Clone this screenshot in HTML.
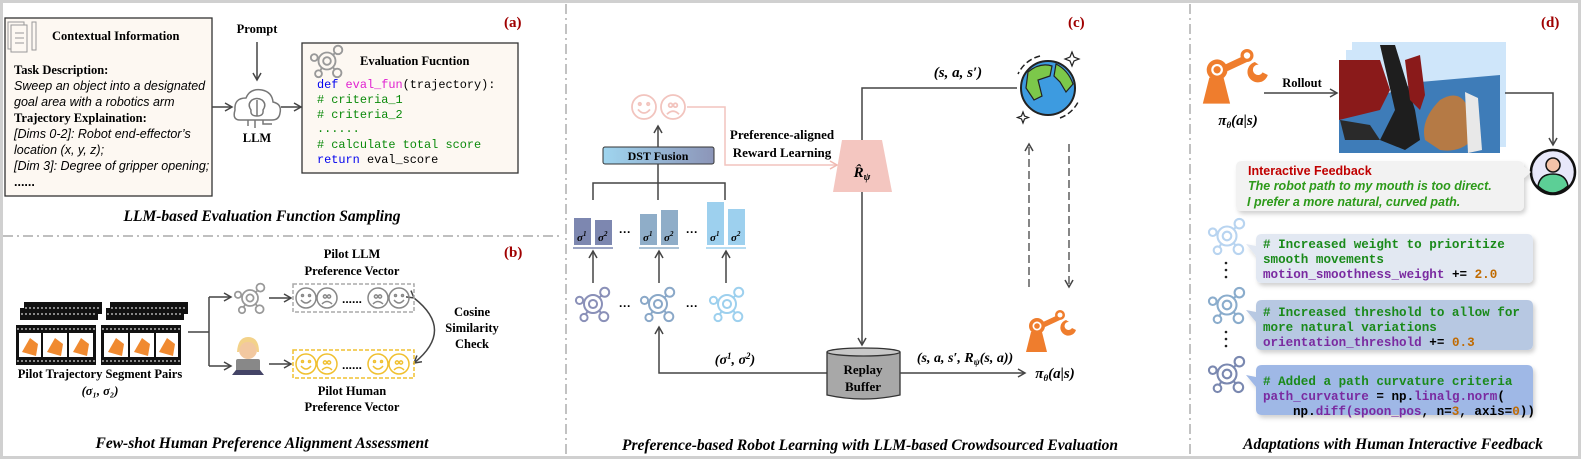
<!DOCTYPE html>
<html><head><meta charset="utf-8">
<style>
html,body{margin:0;padding:0;background:#fff}
svg{display:block}
.ser{font-family:"Liberation Serif",serif}
.sans{font-family:"Liberation Sans",sans-serif}
.mono{font-family:"Liberation Mono",monospace}
</style></head><body>
<svg width="1583" height="461" viewBox="0 0 1583 461" xmlns="http://www.w3.org/2000/svg">
<defs>
<marker id="ar" markerWidth="10" markerHeight="10" refX="8" refY="5" orient="auto" markerUnits="userSpaceOnUse"><path d="M1,1 L8,5 L1,9" fill="none" stroke="#444" stroke-width="1.5"/></marker>
<marker id="arp" markerWidth="10" markerHeight="10" refX="8" refY="5" orient="auto" markerUnits="userSpaceOnUse"><path d="M1,1 L8,5 L1,9" fill="none" stroke="#f0b8b0" stroke-width="1.5"/></marker>
<g id="tool" fill="none" stroke-width="2.2">
<circle cx="0" cy="0" r="10"/><circle cx="0" cy="0" r="4.5"/>
<circle cx="13" cy="-13" r="5"/><circle cx="-15" cy="-4" r="4"/><circle cx="-10" cy="15" r="4"/><circle cx="12" cy="14" r="5"/>
<line x1="7" y1="-7" x2="9.5" y2="-9.5"/><line x1="-10" y1="-2.5" x2="-11" y2="-3"/><line x1="-6" y1="8" x2="-8" y2="11.5"/><line x1="7" y1="7" x2="9" y2="10.5"/>
</g>
<g id="smile" fill="none" stroke-width="1.5"><circle r="10"/><circle cx="-3.5" cy="-2.5" r="1" /><circle cx="3.5" cy="-2.5" r="1"/><path d="M-5,2 Q0,8 5,2"/></g>
<g id="frown" fill="none" stroke-width="1.5"><circle r="10"/><circle cx="-2" cy="-1.5" r="1.6"/><circle cx="2" cy="-1.5" r="1.6"/><path d="M-5,6 Q0,1 5,6"/></g>
<g id="arm">
<path d="M-14,22 L-9,2 L2,2 L7,22Z" fill="#ef7d2d"/>
<circle cx="-3" cy="-4" r="8" fill="#ef7d2d"/><circle cx="-3" cy="-4" r="4.5" fill="#fff"/><circle cx="-3" cy="-4" r="2.8" fill="#ef7d2d"/>
<path d="M3,-8 L18,-15 L20,-10 L5,-3Z" fill="#ef7d2d"/>
<circle cx="20" cy="-15" r="5" fill="#ef7d2d"/><circle cx="20" cy="-15" r="2.5" fill="#fff"/>
<path d="M26,-10 A8,8 0 1 0 36,0 L32,-2 A4,4 0 1 1 29,-8Z" fill="#ef7d2d"/>
</g>
<linearGradient id="dst" x1="0" x2="1"><stop offset="0" stop-color="#9fd5ef"/><stop offset="1" stop-color="#8c95b8"/></linearGradient>
<filter id="sh" x="-5%" y="-10%" width="112%" height="130%"><feDropShadow dx="2" dy="3" stdDeviation="2" flood-color="#000" flood-opacity="0.18"/></filter>
</defs>

<rect x="1.5" y="1.5" width="1578" height="456" fill="#fff" stroke="#d0d0d0" stroke-width="3"/>

<line x1="3" y1="236" x2="560" y2="236" stroke="#999" stroke-width="1.2" stroke-dasharray="10,4,2,4"/>
<line x1="566" y1="4" x2="566" y2="456" stroke="#999" stroke-width="1.2" stroke-dasharray="10,4,2,4"/>
<line x1="1190" y1="4" x2="1190" y2="456" stroke="#999" stroke-width="1.2" stroke-dasharray="10,4,2,4"/>

<!-- (a) -->
<text x="504" y="27" class="ser" font-size="15" font-weight="bold" fill="#a00000">(a)</text>
<rect x="5" y="18" width="207" height="178" fill="#fdf8f2" stroke="#333" stroke-width="1.3"/>
<g stroke="#999" fill="none" stroke-width="1"><rect x="8" y="22" width="16" height="27"/><rect x="11" y="25" width="16" height="27" fill="#fdf8f2"/><line x1="15" y1="33" x2="24" y2="33"/><line x1="15" y1="38" x2="24" y2="38"/><line x1="15" y1="43" x2="24" y2="43"/><rect x="32" y="22" width="4" height="28"/></g>
<text x="52" y="40" class="ser" font-size="12.5" font-weight="bold">Contextual Information</text>
<text x="14" y="74" class="ser" font-size="12.5" font-weight="bold">Task Description:</text>
<text x="14" y="90" class="sans" font-size="12.5" font-style="italic">Sweep an object into a designated</text>
<text x="14" y="106" class="sans" font-size="12.5" font-style="italic">goal area with a robotics arm</text>
<text x="14" y="122" class="ser" font-size="12.5" font-weight="bold">Trajectory Explaination:</text>
<text x="14" y="138" class="sans" font-size="12.5" font-style="italic">[Dims 0-2]: Robot end-effector’s</text>
<text x="14" y="154" class="sans" font-size="12.5" font-style="italic">location (x, y, z);</text>
<text x="14" y="170" class="sans" font-size="12.5" font-style="italic">[Dim 3]: Degree of gripper opening;</text>
<text x="14" y="186" class="sans" font-size="12.5" font-weight="bold">......</text>

<text x="257" y="33" class="ser" font-size="12.5" font-weight="bold" text-anchor="middle">Prompt</text>
<line x1="257" y1="42" x2="257" y2="80" stroke="#444" stroke-width="1.5" marker-end="url(#ar)"/>
<g fill="none" stroke="#777" stroke-width="1.5">
<path d="M240,120 Q232,120 235,110 Q234,98 246,98 Q250,88 262,90 Q272,92 273,102 Q282,104 280,113 Q279,120 272,120Z"/>
<path d="M252,100 Q247,104 251,110 Q250,116 257,116 Q264,116 263,110 Q267,104 262,100 Q257,97 252,100Z"/>
<line x1="257" y1="100" x2="257" y2="116"/>
<line x1="248" y1="120" x2="248" y2="126"/><line x1="255" y1="120" x2="255" y2="128"/><path d="M263,120 L263,124 L272,124"/>
</g>
<text x="257" y="142" class="ser" font-size="12.5" font-weight="bold" text-anchor="middle">LLM</text>
<line x1="212" y1="107" x2="232" y2="107" stroke="#444" stroke-width="1.5" marker-end="url(#ar)"/>
<line x1="281" y1="107" x2="301" y2="107" stroke="#444" stroke-width="1.5" marker-end="url(#ar)"/>

<rect x="302" y="43" width="216" height="130" fill="#fdf8f2" stroke="#333" stroke-width="1.3"/>
<use href="#tool" stroke="#999" transform="translate(327,61) scale(0.85)"/>
<text x="360" y="65" class="ser" font-size="12.5" font-weight="bold">Evaluation Fucntion</text>
<g class="mono" font-size="11.9">
<text x="317" y="88"><tspan fill="#0000ee">def </tspan><tspan fill="#e020d0">eval_fun</tspan><tspan fill="#000">(trajectory):</tspan></text>
<text x="317" y="103" fill="#0a8a0a"># criteria_1</text>
<text x="317" y="118" fill="#0a8a0a"># criteria_2</text>
<text x="317" y="132" fill="#0a8a0a">......</text>
<text x="317" y="148" fill="#0a8a0a"># calculate total score</text>
<text x="317" y="163"><tspan fill="#0000ee">return </tspan><tspan fill="#000">eval_score</tspan></text>
</g>
<text x="262" y="221" class="ser" font-size="15.5" font-weight="bold" font-style="italic" text-anchor="middle">LLM-based Evaluation Function Sampling</text>

<!-- (b) -->
<text x="504" y="257" class="ser" font-size="15" font-weight="bold" fill="#a00000">(b)</text>
<text x="352" y="258" class="ser" font-size="12.5" font-weight="bold" text-anchor="middle">Pilot LLM</text>
<text x="352" y="275" class="ser" font-size="12.5" font-weight="bold" text-anchor="middle">Preference Vector</text>
<g>
<rect x="24" y="302" width="78" height="12" fill="#111"/><rect x="110" y="302" width="78" height="12" fill="#111"/>
<rect x="20" y="308" width="78" height="12" fill="#111"/><rect x="106" y="308" width="78" height="12" fill="#111"/>
<rect x="16" y="325" width="80" height="40" fill="#111"/><rect x="101" y="325" width="80" height="40" fill="#111"/>
<g fill="#fff"><rect x="19" y="333" width="22" height="24"/><rect x="43" y="333" width="24" height="24"/><rect x="69" y="333" width="24" height="24"/>
<rect x="104" y="333" width="24" height="24"/><rect x="130" y="333" width="24" height="24"/><rect x="156" y="333" width="22" height="24"/></g>
<g fill="#f08a30"><path d="M22,352 L30,338 L38,344 L36,356Z"/><path d="M47,352 L55,338 L63,344 L61,356Z"/><path d="M73,352 L81,338 L89,344 L87,356Z"/><path d="M108,352 L116,338 L124,344 L122,356Z"/><path d="M134,352 L142,338 L150,344 L148,356Z"/><path d="M159,352 L167,338 L175,344 L173,356Z"/></g>
<g stroke="#fff" stroke-width="1" stroke-dasharray="2,2"><line x1="17" y1="329" x2="96" y2="329"/><line x1="17" y1="361" x2="96" y2="361"/><line x1="102" y1="329" x2="181" y2="329"/><line x1="102" y1="361" x2="181" y2="361"/>
<line x1="25" y1="308" x2="101" y2="308"/><line x1="111" y1="308" x2="187" y2="308"/><line x1="21" y1="314" x2="97" y2="314"/><line x1="107" y1="314" x2="183" y2="314"/></g>
</g>
<text x="100" y="378" class="ser" font-size="12.5" font-weight="bold" text-anchor="middle">Pilot Trajectory Segment Pairs</text>
<text x="100" y="395" class="ser" font-size="12.5" font-weight="bold" font-style="italic" text-anchor="middle">(σ₁, σ₂)</text>
<g stroke="#444" stroke-width="1.5" fill="none">
<polyline points="188,332 209,332"/>
<polyline points="209,297 209,366"/>
<line x1="209" y1="297" x2="231" y2="297" marker-end="url(#ar)"/>
<line x1="209" y1="366" x2="231" y2="366" marker-end="url(#ar)"/>
<line x1="269" y1="298" x2="291" y2="298" marker-end="url(#ar)"/>
<line x1="269" y1="364" x2="291" y2="364" marker-end="url(#ar)"/>
<path d="M414,298 Q455,330 414,363" marker-end="url(#ar)" marker-start="url(#ar)"/>
</g>
<use href="#tool" stroke="#999" transform="translate(250,298) scale(0.8)"/>
<circle cx="248" cy="350" r="9" fill="#f2c8a0"/><path d="M237,352 Q238,337 248,337 Q259,337 259,352 L257,352 Q256,342 248,342 Q240,342 239,352Z" fill="#f3d28a"/>
<rect x="236" y="359" width="24" height="13" rx="2" fill="#888"/><path d="M232,375 L264,375 L260,370 L236,370Z" fill="#446"/>
<rect x="293" y="284" width="121" height="28" fill="none" stroke="#aaa" stroke-width="1.5" stroke-dasharray="4,2"/>
<g stroke="#888"><use href="#smile" transform="translate(306,298)"/><use href="#frown" transform="translate(327,298)"/><use href="#frown" transform="translate(378,298)"/><use href="#smile" transform="translate(399,298)"/></g>
<text x="352" y="303" class="sans" font-size="12" font-weight="bold" text-anchor="middle">......</text>
<rect x="293" y="350" width="121" height="28" fill="none" stroke="#f0c030" stroke-width="1.5" stroke-dasharray="4,2"/>
<g stroke="#f0c030"><use href="#smile" transform="translate(306,364)"/><use href="#frown" transform="translate(327,364)"/><use href="#smile" transform="translate(378,364)"/><use href="#frown" transform="translate(399,364)"/></g>
<text x="352" y="369" class="sans" font-size="12" font-weight="bold" text-anchor="middle">......</text>
<text x="472" y="316" class="ser" font-size="12.5" font-weight="bold" text-anchor="middle">Cosine</text>
<text x="472" y="332" class="ser" font-size="12.5" font-weight="bold" text-anchor="middle">Similarity</text>
<text x="472" y="348" class="ser" font-size="12.5" font-weight="bold" text-anchor="middle">Check</text>
<text x="352" y="395" class="ser" font-size="12.5" font-weight="bold" text-anchor="middle">Pilot Human</text>
<text x="352" y="411" class="ser" font-size="12.5" font-weight="bold" text-anchor="middle">Preference Vector</text>
<text x="262" y="448" class="ser" font-size="15.5" font-weight="bold" font-style="italic" text-anchor="middle">Few-shot Human Preference Alignment Assessment</text>

<!-- (c) -->
<text x="1068" y="27" class="ser" font-size="15" font-weight="bold" fill="#a00000">(c)</text>
<circle cx="1048" cy="88" r="27" fill="#3d9be0" stroke="#222" stroke-width="2"/>
<path d="M1028,72 Q1040,62 1052,66 L1050,76 L1038,80 L1042,96 L1034,100 L1026,88Z" fill="#7cc84a" stroke="#222" stroke-width="1.2"/>
<path d="M1056,64 Q1068,70 1073,84 L1066,92 L1060,82 L1054,76Z" fill="#7cc84a" stroke="#222" stroke-width="1.2"/>
<path d="M1040,56 A33,33 0 0 0 1018,74" fill="none" stroke="#222" stroke-width="1.5" stroke-dasharray="6,3"/>
<path d="M1060,118 A33,33 0 0 0 1079,100" fill="none" stroke="#222" stroke-width="1.5" stroke-dasharray="6,3"/>
<path d="M1072,52 l2,5 5,2 -5,2 -2,5 -2,-5 -5,-2 5,-2Z" fill="none" stroke="#222" stroke-width="1.2"/>
<path d="M1023,112 l1.5,4 4,1.5 -4,1.5 -1.5,4 -1.5,-4 -4,-1.5 4,-1.5Z" fill="none" stroke="#222" stroke-width="1.2"/>
<text x="958" y="77" class="ser" font-size="15" font-weight="bold" font-style="italic" text-anchor="middle">(s, a, s′)</text>
<polyline points="1017,88 862,88 862,140" fill="none" stroke="#444" stroke-width="1.5"/>
<path d="M842,140 L882,140 L892,192 L833,192Z" fill="#f4c6c0"/>
<text x="862" y="177" class="ser" font-size="15" font-weight="bold" font-style="italic" text-anchor="middle">R̂<tspan font-size="10" dy="3">ψ</tspan></text>
<line x1="862" y1="192" x2="862" y2="345" stroke="#444" stroke-width="1.5" marker-end="url(#ar)"/>
<g stroke="#f2c4be" stroke-width="1.5"><use href="#smile" transform="translate(644,107) scale(1.2)"/><use href="#frown" transform="translate(673,107) scale(1.2)"/></g>
<polyline points="687,107 725,107 725,165 837,165" fill="none" stroke="#f2c4be" stroke-width="1.5" marker-end="url(#arp)"/>
<text x="782" y="139" class="ser" font-size="13" font-weight="bold" text-anchor="middle">Preference-aligned</text>
<text x="782" y="157" class="ser" font-size="13" font-weight="bold" text-anchor="middle">Reward Learning</text>
<rect x="603" y="147" width="111" height="17" rx="2" fill="url(#dst)" stroke="#333" stroke-width="1"/>
<text x="658" y="160" class="ser" font-size="12" font-weight="bold" text-anchor="middle">DST Fusion</text>
<line x1="658" y1="147" x2="658" y2="126" stroke="#444" stroke-width="1.5" marker-end="url(#ar)"/>
<polyline points="658,164 658,200" fill="none" stroke="#444" stroke-width="1.5"/>
<polyline points="593,200 593,183 725,183 725,200" fill="none" stroke="#444" stroke-width="1.5"/>
<rect x="574" y="218" width="17" height="27" fill="#7d87b0"/><rect x="595" y="220" width="17" height="25" fill="#7d87b0"/>
<line x1="573" y1="248" x2="613" y2="248" stroke="#7d87b0" stroke-width="1.5"/>
<rect x="640" y="214" width="17" height="31" fill="#8fadc8"/><rect x="661" y="210" width="17" height="35" fill="#8fadc8"/>
<line x1="639" y1="248" x2="679" y2="248" stroke="#8fadc8" stroke-width="1.5"/>
<rect x="707" y="202" width="17" height="43" fill="#9dd0ee"/><rect x="728" y="209" width="17" height="36" fill="#9dd0ee"/>
<line x1="706" y1="248" x2="746" y2="248" stroke="#9dd0ee" stroke-width="1.5"/>
<g class="ser" font-size="11" font-weight="bold" font-style="italic">
<text x="577" y="241">σ<tspan font-size="7" dy="-5">1</tspan></text><text x="598" y="241">σ<tspan font-size="7" dy="-5">2</tspan></text>
<text x="643" y="241">σ<tspan font-size="7" dy="-5">1</tspan></text><text x="664" y="241">σ<tspan font-size="7" dy="-5">2</tspan></text>
<text x="710" y="241">σ<tspan font-size="7" dy="-5">1</tspan></text><text x="731" y="241">σ<tspan font-size="7" dy="-5">2</tspan></text>
</g>
<g class="sans" font-size="12" font-weight="bold" text-anchor="middle"><text x="625" y="236">···</text><text x="692" y="236">···</text><text x="625" y="310">···</text><text x="692" y="310">···</text></g>
<g stroke="#444" stroke-width="1.5"><line x1="593" y1="283" x2="593" y2="251" marker-end="url(#ar)"/><line x1="659" y1="283" x2="659" y2="251" marker-end="url(#ar)"/><line x1="726" y1="283" x2="726" y2="251" marker-end="url(#ar)"/></g>
<use href="#tool" stroke="#8a90b8" transform="translate(593,304) scale(0.9)"/>
<use href="#tool" stroke="#8aa8c8" transform="translate(658,304) scale(0.9)"/>
<use href="#tool" stroke="#9dd0ee" transform="translate(727,304) scale(0.9)"/>
<polyline points="827,373 659,373 659,327" fill="none" stroke="#444" stroke-width="1.5" marker-end="url(#ar)"/>
<text x="735" y="364" class="ser" font-size="14" font-weight="bold" font-style="italic" text-anchor="middle">(σ<tspan font-size="9" dy="-5">1</tspan><tspan dy="5">, σ</tspan><tspan font-size="9" dy="-5">2</tspan><tspan dy="5">)</tspan></text>
<path d="M827,352 L827,395 Q863,403 900,395 L900,352" fill="#a8a8a8" stroke="#333" stroke-width="1.3"/>
<ellipse cx="863.5" cy="352" rx="36.5" ry="4" fill="#c8c8c8" stroke="#333" stroke-width="1.3"/>
<text x="863" y="374" class="ser" font-size="13" font-weight="bold" text-anchor="middle">Replay</text>
<text x="863" y="391" class="ser" font-size="13" font-weight="bold" text-anchor="middle">Buffer</text>
<line x1="900" y1="373" x2="1025" y2="373" stroke="#444" stroke-width="1.5" marker-end="url(#ar)"/>
<text x="965" y="362" class="ser" font-size="14" font-weight="bold" font-style="italic" text-anchor="middle">(s, a, s′, R<tspan font-size="9" dy="3">ψ</tspan><tspan dy="-3">(s, a))</tspan></text>
<text x="1055" y="378" class="ser" font-size="15" font-weight="bold" font-style="italic" text-anchor="middle">π<tspan font-size="9" dy="3">θ</tspan><tspan dy="-3">(a|s)</tspan></text>
<use href="#arm" transform="translate(1040,330)"/>
<line x1="1029" y1="287" x2="1029" y2="144" stroke="#444" stroke-width="1.3" stroke-dasharray="8,4" marker-end="url(#ar)"/>
<line x1="1069" y1="144" x2="1069" y2="287" stroke="#444" stroke-width="1.3" stroke-dasharray="8,4" marker-end="url(#ar)"/>
<text x="870" y="450" class="ser" font-size="15.5" font-weight="bold" font-style="italic" text-anchor="middle">Preference-based Robot Learning with LLM-based Crowdsourced Evaluation</text>

<!-- (d) -->
<text x="1541" y="27" class="ser" font-size="15" font-weight="bold" fill="#a00000">(d)</text>
<use href="#arm" transform="translate(1221,75) scale(1.3)"/>
<text x="1238" y="125" class="ser" font-size="15" font-weight="bold" font-style="italic" text-anchor="middle">π<tspan font-size="9" dy="3">θ</tspan><tspan dy="-3">(a|s)</tspan></text>
<text x="1302" y="87" class="ser" font-size="12.5" font-weight="bold" text-anchor="middle">Rollout</text>
<line x1="1264" y1="93" x2="1337" y2="93" stroke="#444" stroke-width="1.5" marker-end="url(#ar)"/>
<rect x="1352" y="42" width="154" height="105" fill="#cfe6fa"/>
<rect x="1346" y="50" width="154" height="100" fill="#cfe6fa"/>
<rect x="1339" y="60" width="160" height="93" fill="#cfe6fa"/>
<path d="M1339,110 L1420,82 L1500,75 L1500,153 L1339,153Z" fill="#3e7cb8"/>
<path d="M1339,60 L1380,60 L1390,90 L1380,110 L1339,120Z" fill="#8a1a1a"/>
<path d="M1380,45 L1395,45 L1415,110 L1420,140 L1405,150 L1380,140 L1395,110Z" fill="#1e1e1e"/>
<path d="M1405,60 L1420,55 L1425,95 L1420,110 L1410,100Z" fill="#8a1a1a"/>
<path d="M1340,120 L1370,125 L1380,140 L1345,140Z" fill="#2a2a2a"/>
<path d="M1440,100 Q1460,88 1468,108 L1472,140 Q1460,153 1440,150 L1425,140 Q1420,120 1440,100Z" fill="#b57a45"/>
<path d="M1465,92 L1478,98 L1482,150 L1468,153Z" fill="#e8e8e8"/>
<polyline points="1505,93 1553,93 1553,145" fill="none" stroke="#444" stroke-width="1.5" marker-end="url(#ar)"/>
<circle cx="1553" cy="172" r="22" fill="#e8e8fa" stroke="#111" stroke-width="2.5"/>
<circle cx="1553" cy="165" r="7" fill="#f4c2a8" stroke="#111" stroke-width="1.5"/>
<path d="M1538,186 Q1540,174 1553,174 Q1566,174 1568,186 Q1560,193 1553,193 Q1545,193 1538,186Z" fill="#5ccf96" stroke="#111" stroke-width="1.5"/>
<path d="M1242,161 L1518,161 Q1524,161 1524,167 L1531,172 L1524,178 L1524,205 Q1524,211 1518,211 L1242,211 Q1236,211 1236,205 L1236,167 Q1236,161 1242,161Z" fill="#f2f2f2" filter="url(#sh)"/>
<text x="1248" y="175" class="sans" font-size="12.5" font-weight="bold" fill="#c00000">Interactive Feedback</text>
<text x="1248" y="190" class="sans" font-size="12.5" font-weight="bold" font-style="italic" fill="#2d9a1a">The robot path to my mouth is too direct.</text>
<text x="1247" y="206" class="sans" font-size="12.5" font-weight="bold" font-style="italic" fill="#2d9a1a">I prefer a more natural, curved path.</text>
<path d="M1262,234 L1527,234 Q1533,234 1533,240 L1533,277 Q1533,283 1527,283 L1262,283 Q1256,283 1256,277 L1256,256 L1246,244 L1256,246 L1256,240 Q1256,234 1262,234Z" fill="#e2e8f2" filter="url(#sh)"/>
<path d="M1262,300 L1527,300 Q1533,300 1533,306 L1533,344 Q1533,350 1527,350 L1262,350 Q1256,350 1256,344 L1256,322 L1246,310 L1256,312 L1256,306 Q1256,300 1262,300Z" fill="#b7c8e2" filter="url(#sh)"/>
<path d="M1262,365 L1527,365 Q1533,365 1533,371 L1533,409 Q1533,415 1527,415 L1262,415 Q1256,415 1256,409 L1256,387 L1246,375 L1256,377 L1256,371 Q1256,365 1262,365Z" fill="#9fb8e6" filter="url(#sh)"/>
<g class="mono" font-size="12.6" font-weight="bold">
<text x="1263" y="248" fill="#1a8a1a"># Increased weight to prioritize</text>
<text x="1263" y="263" fill="#1a8a1a">smooth movements</text>
<text x="1263" y="278"><tspan fill="#7a2aa0">motion_smoothness_weight</tspan><tspan fill="#000"> += </tspan><tspan fill="#c06a00">2.0</tspan></text>
<text x="1263" y="316" fill="#1a8a1a"># Increased threshold to allow for</text>
<text x="1263" y="331" fill="#1a8a1a">more natural variations</text>
<text x="1263" y="346"><tspan fill="#7a2aa0">orientation_threshold</tspan><tspan fill="#000"> += </tspan><tspan fill="#c06a00">0.3</tspan></text>
<text x="1263" y="385" fill="#1a8a1a"># Added a path curvature criteria</text>
<text x="1263" y="400"><tspan fill="#7a2aa0">path_curvature</tspan><tspan fill="#000"> = np.</tspan><tspan fill="#7a2aa0">linalg.norm</tspan><tspan fill="#000">(</tspan></text>
<text x="1293" y="415"><tspan fill="#000">np.</tspan><tspan fill="#7a2aa0">diff(spoon_pos</tspan><tspan fill="#000">, n=</tspan><tspan fill="#c06a00">3</tspan><tspan fill="#000">, axis=</tspan><tspan fill="#c06a00">0</tspan><tspan fill="#000">))</tspan></text>
</g>
<use href="#tool" stroke="#b8d4f0" transform="translate(1227,236) scale(0.95)"/>
<use href="#tool" stroke="#8aaccc" transform="translate(1227,305) scale(0.95)"/>
<use href="#tool" stroke="#7a88b0" transform="translate(1227,374) scale(0.95)"/>
<g fill="#222"><circle cx="1226" cy="263" r="1.3"/><circle cx="1226" cy="270" r="1.3"/><circle cx="1226" cy="277" r="1.3"/>
<circle cx="1226" cy="332" r="1.3"/><circle cx="1226" cy="339" r="1.3"/><circle cx="1226" cy="346" r="1.3"/></g>
<text x="1393" y="449" class="ser" font-size="15.5" font-weight="bold" font-style="italic" text-anchor="middle">Adaptations with Human Interactive Feedback</text>
</svg>
</body></html>
